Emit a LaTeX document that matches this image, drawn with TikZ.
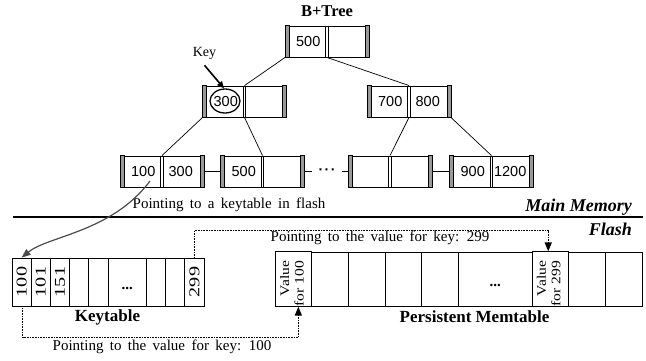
\documentclass[tikz,border=0pt]{standalone}
\usepackage{fontspec}
\setmainfont{Liberation Serif}
\newfontfamily\numfont{Liberation Sans}
\newfontfamily\spacedfont[WordSpace=1.7]{Liberation Serif}
\usetikzlibrary{arrows.meta,shapes.geometric}
\tikzset{
  bnode/.style={draw, line width=0.9pt, minimum height=31pt, inner xsep=4pt, inner ysep=0pt,
    font=\numfont\fontsize{14.5}{16}\selectfont},
  edge/.style={line width=0.7pt},
  kcell/.style={draw, line width=0.8pt, minimum height=48pt, minimum width=19.2pt, inner sep=0pt,
    font=\fontsize{15}{17}\selectfont},
  mcell/.style={draw, line width=0.8pt, minimum height=54pt, minimum width=36.7pt, inner sep=0pt,
    font=\fontsize{13}{14.5}\selectfont},
  ptr/.style={dash pattern=on 0.9pt off 0.7pt, line width=1.4pt, -{Triangle[width=7pt,length=9pt]}},
  lbl/.style={font=\spacedfont\fontsize{15}{17}\selectfont, inner sep=0pt},
  title/.style={font=\bfseries\fontsize{17}{19}\selectfont, inner sep=0pt},
  bar/.style={fill=black!40, draw=black, line width=0.8pt},
  side/.style={anchor=east, font=\bfseries\itshape\fontsize{18}{20}\selectfont, inner sep=0pt},
}
\newcommand{\twocell}[2]{\makebox[37.5pt]{#1}\makebox[37.5pt]{#2}}
\newcommand{\kt}[1]{\rotatebox{90}{\scalebox{1.35}[1]{#1}}}
\newcommand{\vt}[1]{\rotatebox{90}{\scalebox{1.2}[1]{\begin{tabular}{@{}r@{}}Value\\for #1\end{tabular}}\hspace{9pt}}}
\newcommand{\lowdots}{\rule[-5pt]{0pt}{25pt}\textbf{...}}
\begin{document}
\begin{tikzpicture}[x=1pt,y=-1pt]
\useasboundingbox (0,0) rectangle (646,360);

% B+ tree
\node[font=\bfseries\fontsize{16.5}{18}\selectfont, inner sep=0pt] (bt) at (327,11.5) {B+Tree};
\node[bnode] (root) at (327,41.5) {\twocell{500}{}};
\node[bnode] (L) at (244.5,101.5) {\twocell{300}{}};
\node[bnode] (R) at (409,101.5) {\twocell{700}{800}};
\node[bnode] (a) at (162,171.5) {\twocell{100}{300}};
\node[bnode] (b) at (262.5,171.5) {\twocell{500}{}};
\node[bnode] (c) at (390,171.5) {\twocell{}{}};
\node[bnode] (d) at (491.5,171.5) {\twocell{900}{1200}};
\foreach \n in {root,L,R,a,b,c,d} {
  \draw[bar] (\n.north west) rectangle ([xshift=4pt]\n.south west);
  \draw[bar] (\n.north east) rectangle ([xshift=-4pt]\n.south east);
  \draw[line width=0.8pt] ([xshift=-1.3pt]\n.north) -- ([xshift=-1.3pt]\n.south);
  \draw[line width=0.8pt] ([xshift=1.3pt]\n.north) -- ([xshift=1.3pt]\n.south);
}
\draw[edge] (root.south west) -- (L.north);
\draw[edge] (root.south) -- (R.north);
\draw[edge] (L.south west) -- (a.north);
\draw[edge] (L.south) -- (b.north);
\draw[edge] (R.south) -- (c.north);
\draw[edge] (R.south east) -- (d.north);

\node[font=\numfont\bfseries\fontsize{14}{16}\selectfont, inner sep=0pt, minimum width=30pt] (dots) at (327,171.5) {·\kern1.5pt·\kern1.5pt·};
\draw[edge] (a.east) -- (b.west);
\draw[edge] (b.east) -- (dots.west);
\draw[edge] (dots.east) -- (c.west);
\draw[edge] (c.east) -- (d.west);

% key marker
\node[draw, ellipse, line width=1.3pt, minimum width=30pt, minimum height=24pt, inner sep=0pt] (ring) at (225,101) {};
\node[font=\fontsize{14}{16}\selectfont, inner sep=0pt] (keylbl) at (204.5,53) {Key};
\draw[line width=1.6pt, -{Triangle[width=6pt,length=7pt]}] ([yshift=-6pt]keylbl.south) -- ([xshift=-1pt]ring.north);

% separator
\node[lbl] (t1) at (229,205) {Pointing to a keytable in flash};
\coordinate (sepL) at (13,217);
\coordinate (sepR) at (643,217);
\draw[line width=1.3pt] (sepL) -- (sepR);
\node[side] (mm) at (632,207) {Main Memory};
\node[side] (fl) at (632,229) {Flash};

% keytable
\node[kcell] (k1) at (21.6,282) {\kt{100}};
\node[kcell] (k2) at (40.8,282) {\kt{101}};
\node[kcell] (k3) at (60,282) {\kt{151}};
\node[kcell] (k4) at (79.2,282) {};
\node[kcell] (k5) at (98.4,282) {};
\node[kcell, minimum width=38.4pt] (k6) at (127.2,282) {\lowdots};
\node[kcell] (k7) at (156,282) {};
\node[kcell] (k8) at (175.2,282) {};
\node[kcell] (k9) at (194.4,282) {\kt{299}};
\node[title] (kt) at (107.5,317) {Keytable};

% persistent memtable
\node[mcell] (m1) at (293.35,279) {\vt{100}};
\node[mcell] (m2) at (330.05,279) {};
\node[mcell] (m3) at (366.75,279) {};
\node[mcell] (m4) at (403.45,279) {};
\node[mcell] (m5) at (440.15,279) {};
\node[mcell, minimum width=73.4pt, font=\fontsize{15}{17}\selectfont] (m6) at (495.2,279) {\lowdots};
\node[mcell] (m7) at (550.25,279) {\vt{299}};
\node[mcell] (m8) at (586.95,279) {};
\node[mcell] (m9) at (623.65,279) {};
\node[title] (pm) at (474.5,317) {Persistent Memtable};

% pointers
\draw[line width=1.2pt, draw=black!70, -{Triangle[width=7pt,length=9pt]}]
  ([xshift=-12pt,yshift=-9.5pt]a.center) .. controls (112,232) and (48,236) .. (k1.north);
\draw[ptr] (k9.north) -- ++(0,-27) -| ([xshift=-2pt]m7.north);
\node[lbl] (t2) at (380,238) {Pointing to the value for key: 299};
\draw[ptr] ([xshift=1pt]k1.south) -- ++(0,31) -| ([xshift=5pt]m1.south);
\node[lbl] (t3) at (162,347) {Pointing to the value for key: 100};
\end{tikzpicture}
\end{document}
